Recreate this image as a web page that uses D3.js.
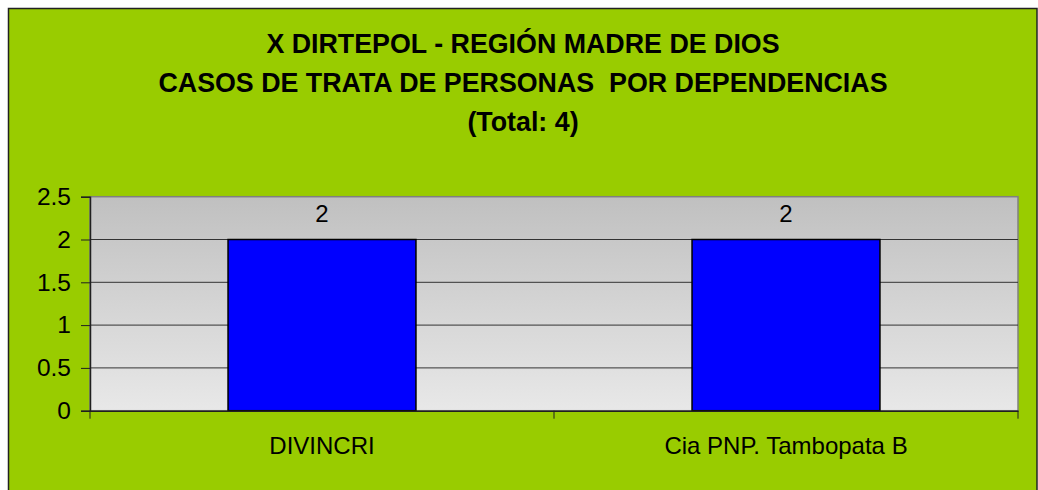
<!DOCTYPE html>
<meta charset="utf-8" />
<script src="https://d3js.org/d3.v7.min.js"></script>
<style>
  html, body { margin: 0; padding: 0; background: #fff; overflow: hidden; }
  text { font-family: Arial, "Liberation Sans", sans-serif; }
</style>
<div id="chart"></div>
<script>
  var width = 1038;
  var height = 490;

  var titleLines = [
    "X DIRTEPOL - REGIÓN MADRE DE DIOS",
    "CASOS DE TRATA DE PERSONAS  POR DEPENDENCIAS",
    "(Total: 4)"
  ];
  var categories = ["DIVINCRI", "Cia PNP. Tambopata B"];
  var values = [2, 2];
  var yTicks = [0, 0.5, 1, 1.5, 2, 2.5];

  var plot = { left: 90, right: 1018, top: 196.7, bottom: 410.7 };

  var svg = d3.select("#chart").append("svg")
    .attr("width", width)
    .attr("height", height);

  var defs = svg.append("defs");
  var grad = defs.append("linearGradient")
    .attr("id", "bg").attr("x1", 0).attr("y1", 0).attr("x2", 0).attr("y2", 1);
  grad.append("stop").attr("offset", "0%").attr("stop-color", "#c0c0c0");
  grad.append("stop").attr("offset", "100%").attr("stop-color", "#e8e8e8");

  // chart area
  svg.append("rect")
    .attr("x", 8.5).attr("y", 8.5)
    .attr("width", 1028.5).attr("height", 500)
    .attr("fill", "#99cc00")
    .attr("stroke", "#222").attr("stroke-width", 1.5);

  svg.selectAll(".title")
    .data(titleLines)
    .enter().append("text")
    .attr("class", "title")
    .attr("x", 523)
    .attr("y", function(d, i) { return 53 + i * 39; })
    .attr("text-anchor", "middle")
    .style("font-size", "26.8px")
    .style("font-weight", "bold")
    .style("white-space", "pre")
    .text(function(d) { return d; });

  var y = d3.scaleLinear().domain([0, 2.5]).range([plot.bottom, plot.top]);
  var x = d3.scaleBand().domain(categories).range([plot.left, plot.right]).padding(0);
  var barW = x.bandwidth() * 0.405;

  svg.append("rect")
    .attr("x", plot.left).attr("y", plot.top)
    .attr("width", plot.right - plot.left).attr("height", plot.bottom - plot.top)
    .attr("fill", "url(#bg)")
    .attr("stroke", "#808080").attr("stroke-width", 1.5);

  // gridlines
  svg.append("g")
    .selectAll("line")
    .data(yTicks.filter(function(d) { return d > 0 && d < 2.5; }))
    .enter().append("line")
    .attr("x1", plot.left).attr("x2", plot.right)
    .attr("y1", function(d) { return y(d); })
    .attr("y2", function(d) { return y(d); })
    .attr("stroke", "#333").attr("stroke-width", 1);

  // bars
  svg.append("g")
    .selectAll("rect")
    .data(values)
    .enter().append("rect")
    .attr("x", function(d, i) { return x(categories[i]) + x.bandwidth() / 2 - barW / 2; })
    .attr("y", function(d) { return y(d); })
    .attr("width", barW)
    .attr("height", function(d) { return y(0) - y(d); })
    .attr("fill", "#0000ff")
    .attr("stroke", "#000").attr("stroke-width", 1.5);

  svg.append("g")
    .selectAll("text")
    .data(values)
    .enter().append("text")
    .attr("x", function(d, i) { return x(categories[i]) + x.bandwidth() / 2; })
    .attr("y", function(d) { return y(d) - 18; })
    .attr("text-anchor", "middle")
    .style("font-size", "24px")
    .text(function(d) { return d; });

  // y axis
  var yAxis = svg.append("g")
    .attr("transform", "translate(" + plot.left + ",0)")
    .call(d3.axisLeft(y).tickValues(yTicks).tickSize(9).tickPadding(10)
      .tickFormat(function(d) { return String(d); }));
  yAxis.select(".domain").attr("stroke", "#202020").attr("stroke-width", 1.5);
  yAxis.selectAll(".tick line").attr("stroke", "#202020");
  yAxis.selectAll("text").style("font-size", "24.5px").attr("fill", "#000")
    .style("font-family", "Arial, 'Liberation Sans', sans-serif");

  // x axis
  var xAxis = svg.append("g")
    .attr("transform", "translate(0," + plot.bottom + ")")
    .call(d3.axisBottom(x).tickSize(0).tickPadding(26));
  xAxis.select(".domain").attr("stroke", "#202020").attr("stroke-width", 1.5);
  xAxis.selectAll("text").style("font-size", "24px").attr("fill", "#000")
    .style("font-family", "Arial, 'Liberation Sans', sans-serif");

  var bounds = [plot.left, plot.left + x.bandwidth(), plot.right];
  svg.append("g")
    .selectAll("line")
    .data(bounds)
    .enter().append("line")
    .attr("x1", function(d) { return d; }).attr("x2", function(d) { return d; })
    .attr("y1", plot.bottom).attr("y2", plot.bottom + 8)
    .attr("stroke", "#202020").attr("stroke-width", 1);
</script>
